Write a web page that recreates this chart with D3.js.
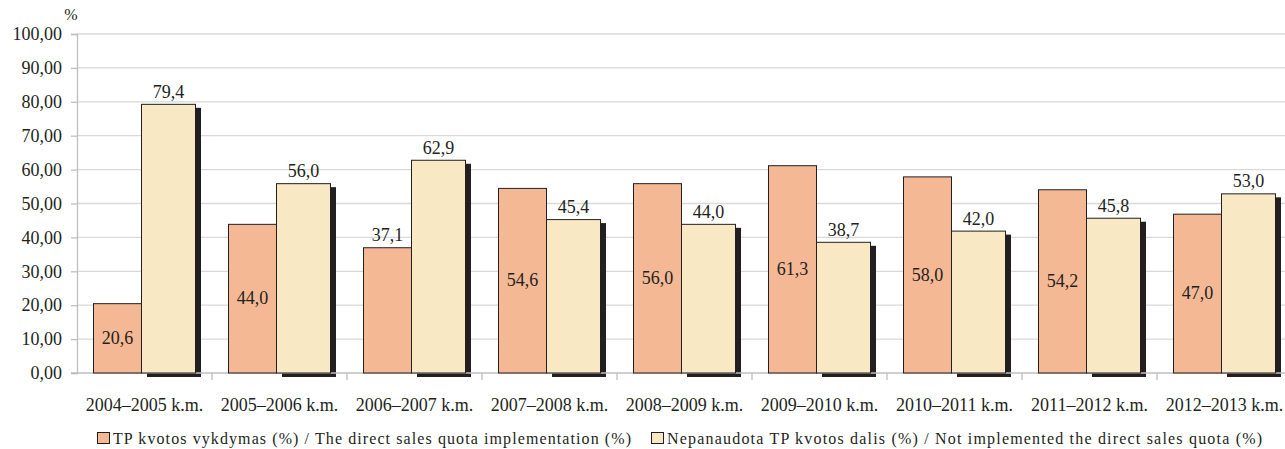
<!DOCTYPE html>
<html><head><meta charset="utf-8">
<script src="https://cdn.jsdelivr.net/npm/d3@7"></script>
<style>body{margin:0;background:#fff}svg, svg text{font-family:'Liberation Serif','Times New Roman',Tinos,'DejaVu Serif',serif !important}</style>
</head><body><div id="chart"></div>
<script>
const categories = ["2004–2005 k.m.","2005–2006 k.m.","2006–2007 k.m.","2007–2008 k.m.","2008–2009 k.m.","2009–2010 k.m.","2010–2011 k.m.","2011–2012 k.m.","2012–2013 k.m."];
const implemented = [20.6, 44.0, 37.1, 54.6, 56.0, 61.3, 58.0, 54.2, 47.0];
const notImplemented = [79.4, 56.0, 62.9, 45.4, 44.0, 38.7, 42.0, 45.8, 53.0];
const yTicks = [0,10,20,30,40,50,60,70,80,90,100];
const seriesNames = ["TP kvotos vykdymas (%) / The direct sales quota implementation (%)", "Nepanaudota TP kvotos dalis (%) / Not implemented the direct sales quota (%)"];
const colors = ["#f4b994", "#f8e8c4"];

const W = 1285, H = 449;
const svg = d3.select("#chart").append("svg").attr("width", W).attr("height", H);
const x0 = 77, x1 = 77 + 135 * 9;
const x = d3.scaleBand().domain(categories).range([x0, x1]).paddingInner(0).paddingOuter(0);
const y = d3.scaleLinear().domain([0, 100]).range([373, 34]);
const fmt = v => v.toFixed(1).replace(".", ",");
const FONT = "'Liberation Serif','Times New Roman',Tinos,'DejaVu Serif',serif";

// gridlines
svg.append("g").selectAll("line").data(yTicks.slice(1)).join("line")
  .attr("x1", x0).attr("x2", W).attr("y1", d => y(d)).attr("y2", d => y(d))
  .attr("stroke", "#d9d9d9").attr("stroke-width", 1.3);

// y axis
const yAxis = svg.append("g").attr("transform", `translate(${x0},0)`)
  .call(d3.axisLeft(y).tickValues(yTicks).tickSize(6).tickPadding(9).tickFormat(d => d.toFixed(2).replace(".", ",")));
yAxis.attr("font-family", FONT);
yAxis.select(".domain").attr("stroke", "#bfbfbf").attr("stroke-width", 1.3);
yAxis.selectAll(".tick line").attr("stroke", "#bfbfbf").attr("stroke-width", 1.3);
yAxis.selectAll("text").attr("font-size", 18).attr("fill", "#231f20");

svg.append("text").attr("x", 71).attr("y", 20).attr("text-anchor", "middle")
  .attr("font-size", 16).attr("fill", "#231f20").text("%");

const offA = 16, wA = 48, wB = 54, sdx = 6, sdy = 4;

// shadows for second series
svg.append("g").selectAll("rect").data(categories).join("rect")
  .attr("x", (d, i) => x(d) + offA + wA + sdx)
  .attr("y", (d, i) => y(notImplemented[i]) + sdy)
  .attr("width", wB)
  .attr("height", (d, i) => y(0) - y(notImplemented[i]))
  .attr("fill", "#231f20");

// x axis
const xAxis = svg.append("g").attr("transform", `translate(0,${y(0)})`)
  .call(d3.axisBottom(x).tickSize(0).tickPadding(25));
xAxis.attr("font-family", FONT);
xAxis.select(".domain").remove();
xAxis.selectAll("text").attr("font-size", 18).attr("fill", "#231f20");
svg.append("line").attr("x1", 71).attr("x2", W).attr("y1", y(0)).attr("y2", y(0))
  .attr("stroke", "#bfbfbf").attr("stroke-width", 1.5);
svg.append("g").selectAll("line").data(categories.slice(1)).join("line")
  .attr("x1", d => x(d)).attr("x2", d => x(d)).attr("y1", y(0)).attr("y2", y(0) + 7)
  .attr("stroke", "#bfbfbf").attr("stroke-width", 1.3);

// bars series A
svg.append("g").selectAll("rect").data(categories).join("rect")
  .attr("x", d => x(d) + offA + 0.5)
  .attr("y", (d, i) => y(implemented[i]) + 0.5)
  .attr("width", wA)
  .attr("height", (d, i) => y(0) - y(implemented[i]) - 0.5)
  .attr("fill", colors[0]).attr("stroke", "#231f20").attr("stroke-width", 1);

// bars series B
svg.append("g").selectAll("rect").data(categories).join("rect")
  .attr("x", d => x(d) + offA + wA + 0.5)
  .attr("y", (d, i) => y(notImplemented[i]) + 0.5)
  .attr("width", wB)
  .attr("height", (d, i) => y(0) - y(notImplemented[i]) - 0.5)
  .attr("fill", colors[1]).attr("stroke", "#231f20").attr("stroke-width", 1);

// labels A
svg.append("g").selectAll("text").data(categories).join("text")
  .attr("x", d => x(d) + offA + wA / 2 + 0.5)
  .attr("y", (d, i) => i === 2 ? y(implemented[i]) - 6 : (y(implemented[i]) + y(0)) / 2 + 6)
  .attr("text-anchor", "middle").attr("font-size", 18).attr("fill", "#231f20")
  .text((d, i) => fmt(implemented[i]));

// labels B
svg.append("g").selectAll("text").data(categories).join("text")
  .attr("x", d => x(d) + offA + wA + wB / 2 + 0.5)
  .attr("y", (d, i) => y(notImplemented[i]) - 6)
  .attr("text-anchor", "middle").attr("font-size", 18).attr("fill", "#231f20")
  .text((d, i) => fmt(notImplemented[i]));

// legend
const leg = [{x: 97, tx: 113, len: 518}, {x: 651, tx: 667, len: 595}];
leg.forEach((l, i) => {
  svg.append("rect").attr("x", l.x + 0.5).attr("y", 432.5).attr("width", 12).attr("height", 11)
    .attr("fill", colors[i]).attr("stroke", "#231f20").attr("stroke-width", 1);
  svg.append("text").attr("x", l.tx).attr("y", 443.5).attr("font-size", 16).attr("fill", "#231f20")
    .attr("textLength", l.len).attr("lengthAdjust", "spacing").text(seriesNames[i]);
});
</script></body></html>
